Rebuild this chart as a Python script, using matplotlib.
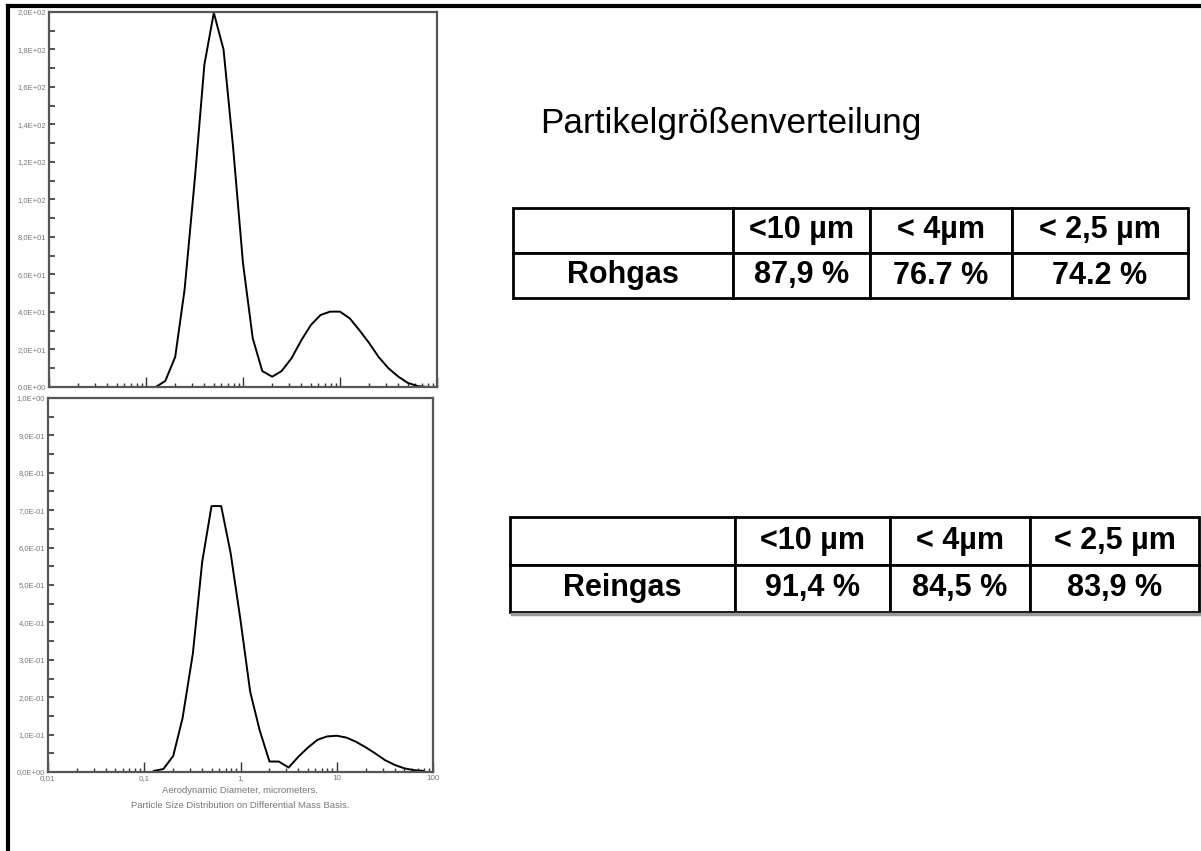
import numpy as np
import matplotlib.pyplot as plt
from matplotlib.lines import Line2D

plt.rcParams['font.family'] = ['Liberation Sans', 'DejaVu Sans']

# particle diameters (micrometers)
diam = [0.126, 0.158, 0.2, 0.25, 0.32, 0.4, 0.5, 0.63, 0.79, 1.0, 1.26, 1.58,
        2.0, 2.5, 3.16, 4.0, 5.0, 6.3, 7.9, 10.0, 12.6, 15.8, 20.0, 25.0, 31.6,
        40.0, 50.0, 63.0, 79.0]

# raw gas (top) and clean gas (bottom) distributions
rohgas = [0.0, 3.2, 16.0, 52.0, 112.0, 172.0, 199.6, 180.0, 128.0, 66.0, 26.0,
          8.5, 5.5, 8.5, 15.3, 25.0, 33.0, 38.4, 40.2, 40.2, 36.6, 30.4, 23.4,
          16.0, 10.0, 5.5, 2.2, 0.5, 0.0]
reingas = [0.003, 0.008, 0.043, 0.144, 0.317, 0.562, 0.711, 0.711, 0.585, 0.406,
           0.215, 0.112, 0.028, 0.028, 0.012, 0.041, 0.065, 0.086, 0.095, 0.097,
           0.092, 0.081, 0.066, 0.05, 0.032, 0.019, 0.01, 0.005, 0.003]

top_yticks = [0, 20, 40, 60, 80, 100, 120, 140, 160, 180, 200]
top_ylabels = ["0,0E+00", "2,0E+01", "4,0E+01", "6,0E+01", "8,0E+01", "1,0E+02",
               "1,2E+02", "1,4E+02", "1,6E+02", "1,8E+02", "2,0E+02"]
bot_yticks = [0, 0.1, 0.2, 0.3, 0.4, 0.5, 0.6, 0.7, 0.8, 0.9, 1.0]
bot_ylabels = ["0,0E+00", "1,0E-01", "2,0E-01", "3,0E-01", "4,0E-01", "5,0E-01",
               "6,0E-01", "7,0E-01", "8,0E-01", "9,0E-01", "1,0E+00"]
xticks = [0.01, 0.1, 1, 10, 100]
xlabels = ["0,01", "0,1", "1,", "10", "100"]

col_heads = ["", "<10 µm", "< 4µm", "< 2,5 µm"]
row_roh = ["Rohgas", "87,9 %", "76.7 %", "74.2 %"]
row_rein = ["Reingas", "91,4 %", "84,5 %", "83,9 %"]

W, H = 1201, 851
fig = plt.figure(figsize=(12.01, 8.51), dpi=100)


def frac(x0, y0, x1, y1):
    return [x0 / W, 1 - y1 / H, (x1 - x0) / W, (y1 - y0) / H]


def style_axis(ax, yticks, ylabels, minor_step):
    ax.set_xscale('log')
    ax.set_xlim(0.01, 100)
    ax.set_ylim(yticks[0], yticks[-1])
    ax.set_yticks(yticks)
    ax.set_yticklabels(ylabels)
    ax.set_yticks(np.arange(yticks[0] + minor_step, yticks[-1], 2 * minor_step), minor=True)
    ax.set_xticks(xticks)
    for s in ax.spines.values():
        s.set_color('#555555')
        s.set_linewidth(1.6)
    ax.tick_params(which='major', axis='y', direction='in', length=4, width=1.2,
                   color='#333333', labelsize=5.5, labelcolor='#777777', pad=2)
    ax.tick_params(which='minor', axis='y', direction='in', length=4, width=1.2,
                   color='#333333')
    ax.tick_params(which='major', axis='x', direction='in', length=7, width=1.0,
                   color='#333333', labelsize=5.8, labelcolor='#777777', pad=2)
    ax.tick_params(which='minor', axis='x', direction='in', length=3, width=1.0,
                   color='#333333')


ax1 = fig.add_axes(frac(49, 12, 437, 387))
ax1.plot(diam, rohgas, color='black', lw=1.4)
style_axis(ax1, top_yticks, top_ylabels, 10)
ax1.set_xticklabels([])

ax2 = fig.add_axes(frac(48, 398, 433, 772))
ax2.plot(diam, reingas, color='black', lw=1.4)
style_axis(ax2, bot_yticks, bot_ylabels, 0.05)
ax2.set_xticklabels(xlabels)
ax2.set_xlabel("Aerodynamic Diameter, micrometers.\nParticle Size Distribution on Differential Mass Basis.",
               fontsize=6.8, color='#777777', labelpad=3, linespacing=1.9)

fig.text(540 / W, 1 - 123 / H, "Partikelgrößenverteilung", fontsize=25.3, va='center', ha='left')


def draw_table(box, widths, rows, shadow=False):
    ax = fig.add_axes(frac(*box))
    ax.axis('off')
    tab = ax.table(cellText=rows, colWidths=widths, bbox=[0, 0, 1, 1], cellLoc='center')
    tab.auto_set_font_size(False)
    for (r, c), cell in tab.get_celld().items():
        cell.set_linewidth(2.0)
        cell.set_edgecolor('black')
        cell.get_text().set_fontsize(22)
        cell.get_text().set_fontweight('bold')
    if shadow:
        ax.plot([0.003, 1.0], [-0.025, -0.025], color='#999999', lw=2.5,
                transform=ax.transAxes, clip_on=False)
    return tab


draw_table((513, 208, 1188, 298), [220, 137, 142, 176], [col_heads, row_roh])
draw_table((510, 517, 1199, 612), [225, 155, 140, 169], [col_heads, row_rein], shadow=True)

# page border
fig.add_artist(Line2D([8 / W, 8 / W], [0, 1 - 6 / H], color='black', lw=3, transform=fig.transFigure))
fig.add_artist(Line2D([8 / W, 1], [1 - 6 / H, 1 - 6 / H], color='black', lw=3, transform=fig.transFigure))

fig.savefig("out.png", dpi=100)
